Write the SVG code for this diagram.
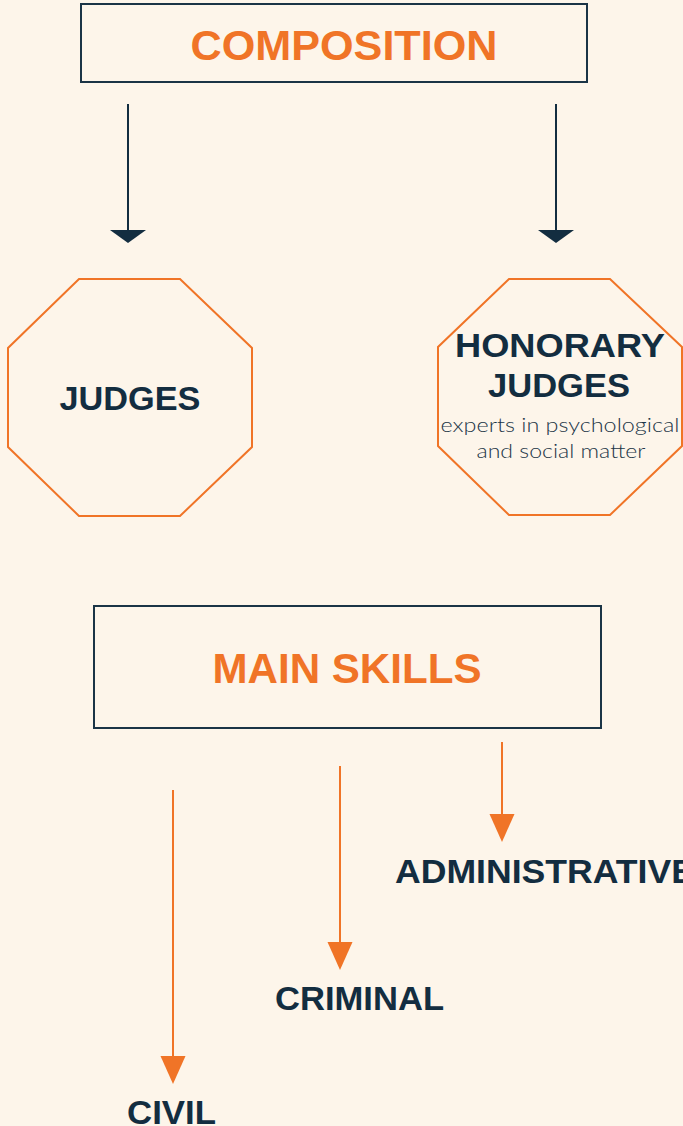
<svg xmlns="http://www.w3.org/2000/svg" width="683" height="1126" viewBox="0 0 683 1126">
<style>
.bg{fill:#FDF5EA}
.box{fill:#FDF5EA;stroke:#1B3446;stroke-width:2}
.oct{fill:#FDF5EA;stroke:#F07427;stroke-width:2}
.title{font-family:"Liberation Sans",Arial,sans-serif;font-weight:bold;font-size:42px;fill:#F07427;text-anchor:middle}
.lbl{font-family:"Liberation Sans",Arial,sans-serif;font-weight:bold;font-size:33px;fill:#132D40}
.sub{font-family:Lato,"Open Sans",sans-serif;font-weight:300;font-size:19px;fill:#1B3446;text-anchor:middle}
.navy{stroke:#132D40;stroke-width:2;fill:none}
.orng{stroke:#F07427;stroke-width:2;fill:none}
</style>
<defs>
<marker id="hn" markerUnits="userSpaceOnUse" markerWidth="40" markerHeight="40" refX="0" refY="0" viewBox="-1 -20 16 40" orient="auto" overflow="visible">
<path d="M0,-18 L13,0 L0,18 Z" fill="#132D40"/>
</marker>
<marker id="ho" markerUnits="userSpaceOnUse" markerWidth="40" markerHeight="40" refX="0" refY="0" viewBox="-1 -20 32 40" orient="auto" overflow="visible">
<path d="M0,-12.5 L28,0 L0,12.5 Z" fill="#F07427"/>
</marker>
</defs>
<rect class="bg" x="0" y="0" width="683" height="1126"/>
<g id="connectors">
<line class="navy" x1="128" y1="104" x2="128" y2="230" marker-end="url(#hn)"/>
<line class="navy" x1="556" y1="104" x2="556" y2="230" marker-end="url(#hn)"/>
<line class="orng" x1="502" y1="742" x2="502" y2="814" marker-end="url(#ho)"/>
<line class="orng" x1="340" y1="766" x2="340" y2="942" marker-end="url(#ho)"/>
<line class="orng" x1="173" y1="790" x2="173" y2="1056" marker-end="url(#ho)"/>
</g>
<g id="composition">
<rect class="box" x="81" y="4" width="506" height="78"/>
<text class="title" x="344" y="60" textLength="307" lengthAdjust="spacingAndGlyphs">COMPOSITION</text>
</g>
<g id="judges">
<polygon class="oct" points="79,279 180,279 252,348 252,447 180,516 79,516 8,447 8,348"/>
<text class="lbl" x="130" y="410" text-anchor="middle" textLength="141" lengthAdjust="spacingAndGlyphs">JUDGES</text>
</g>
<g id="honorary-judges">
<polygon class="oct" points="509,279 610,279 682,347 682,446 610,515 509,515 438,446 438,347"/>
<text class="lbl" x="560" y="357" text-anchor="middle" textLength="210" lengthAdjust="spacingAndGlyphs">HONORARY</text>
<text class="lbl" x="559" y="397" text-anchor="middle" textLength="142" lengthAdjust="spacingAndGlyphs">JUDGES</text>
<text class="sub" x="560" y="432" textLength="239" lengthAdjust="spacingAndGlyphs">experts in psychological</text>
<text class="sub" x="561" y="458" textLength="169" lengthAdjust="spacingAndGlyphs">and social matter</text>
</g>
<g id="main-skills">
<rect class="box" x="94" y="606" width="507" height="122"/>
<text class="title" x="347" y="683" textLength="269" lengthAdjust="spacingAndGlyphs">MAIN SKILLS</text>
</g>
<g id="administrative">
<text class="lbl" x="395" y="883" textLength="300" lengthAdjust="spacingAndGlyphs">ADMINISTRATIVE</text>
</g>
<g id="criminal">
<text class="lbl" x="275" y="1010" textLength="169" lengthAdjust="spacingAndGlyphs">CRIMINAL</text>
</g>
<g id="civil">
<text class="lbl" x="127" y="1124" textLength="89" lengthAdjust="spacingAndGlyphs">CIVIL</text>
</g>
</svg>
